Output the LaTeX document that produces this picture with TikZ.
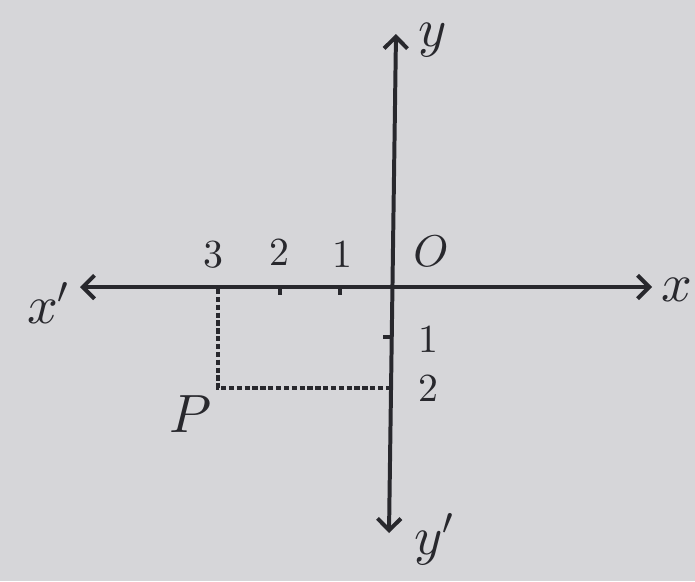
\documentclass[tikz,border=0pt]{standalone}
\usepackage{tikz}
\usetikzlibrary{arrows.meta}
\DeclareFontShape{OT1}{cmr}{m}{n}{<->cmr10}{}
\DeclareFontShape{OML}{cmm}{m}{it}{<->cmmi10}{}
\DeclareFontShape{OMS}{cmsy}{m}{n}{<->cmsy10}{}
\definecolor{paper1}{RGB}{214, 214, 217}
\definecolor{ink1}{RGB}{40, 40, 45}

\begin{document}
\begin{tikzpicture}[x=0.03cm, y=-0.03cm,
  axis/.style={draw=ink1, line width=3.4pt, {Straight Barb[length=10pt, width=20pt]}-{Straight Barb[length=10pt, width=20pt]}},
  guide/.style={draw=ink1, line width=3pt, dash pattern=on 4.5pt off 2.2pt},
  tickmark/.style={draw=ink1, line width=2.6pt},
  lbl/.style={text=ink1, inner sep=0pt, font=\fontsize{34}{36}\selectfont},
  letter/.style={lbl, font=\fontsize{46}{48}\selectfont}]
  \fill[paper1] (0,0) rectangle (695,581);
  \useasboundingbox (0,0) rectangle (695,581);

  % axes
  \coordinate (O) at (392,287);
  \coordinate (xl) at (80,287);
  \coordinate (xr) at (652,287);
  \coordinate (yt) at (396,34);
  \coordinate (yb) at (389,533);
  \draw[axis] (xl) -- (xr);
  \draw[axis] (yb) -- (yt);

  % ticks
  \coordinate (tx1) at (340,287);
  \coordinate (tx2) at (280,287);
  \coordinate (ty1) at (391,337);
  \draw[tickmark] (tx1) -- ++(0,8);
  \draw[tickmark] (tx2) -- ++(0,8);
  \draw[tickmark] (ty1) -- ++(-8,0);

  % point P
  \coordinate (P) at (218,388);
  \coordinate (px) at (218,289);
  \coordinate (py) at (390,388);
  \draw[guide] (px) -- (P) -- (py);

  \node[lbl] (n3) at (213,255) {$3$};
  \node[lbl] (n2) at (279,253) {$2$};
  \node[lbl] (n1) at (342,255) {$1$};
  \node[lbl, font=\fontsize{38}{40}\selectfont] (nO) at (431,251) {$O$};
  \node[lbl] (m1) at (428,340) {$1$};
  \node[lbl] (m2) at (428,389) {$2$};
  \node[letter] (lx) at (677,290) {$x$};
  \node[letter] (lxp) at (48,303) {$x'$};
  \node[letter] (ly) at (433,40) {$y$};
  \node[letter] (lyp) at (434,539) {$y'$};
  \node[letter] (lP) at (191,414) {$P$};
\end{tikzpicture}
\end{document}
